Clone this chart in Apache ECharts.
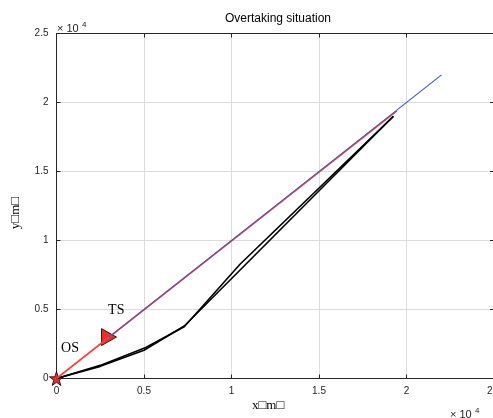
<!DOCTYPE html>
<html>
<head>
<meta charset="utf-8">
<script src="https://cdn.jsdelivr.net/npm/echarts@6/dist/echarts.min.js"></script>
<style>
  html, body { margin: 0; padding: 0; background: #fff; }
  #chart { width: 493px; height: 418px; }
</style>
</head>
<body>
<div id="chart"></div>
<script>
// Track data in metres
const titleText = 'Overtaking situation';
const xAxisName = 'x\u25A1m\u25A1';
const yAxisName = 'y\u25A1m\u25A1';
const tickValues = [0, 5000, 10000, 15000, 20000, 25000];

// Own ship (OS) heading line and target ship (TS) course
const osLine = [[0, 0], [19450, 19400]];
const tsLine = [[3000, 3000], [22000, 22000]];

// Two planned avoidance paths of the own ship
const pathA = [[0, 0], [2500, 950], [5100, 2250], [7300, 3750], [10500, 8300], [19250, 19000]];
const pathB = [[0, 0], [2500, 880], [5000, 2050], [7300, 3800], [19250, 19000]];

// Ship positions
const osPos = [[0, 0]];
const tsPos = [[3000, 3000]];
const osLabel = 'OS';
const tsLabel = 'TS';

const starPath = 'path://M50,0 L61.8,35.3 L99,35.5 L69.1,57.7 L80.3,93.1 L50,71.6 L19.7,93.1 L30.9,57.7 L1,35.5 L38.2,35.3 Z';

const fmt = v => (v / 10000).toString();
const tickColor = '#262626';
const gridColor = '#dcdcdc';

const chart = echarts.init(document.getElementById('chart'), null, { renderer: 'canvas' });

const baseAxis = {
  type: 'value',
  min: 0,
  max: 25000,
  interval: 5000,
  axisLine: { show: true, onZero: false, lineStyle: { color: tickColor, width: 1 } },
  axisTick: { show: true, inside: true, length: 4, lineStyle: { color: tickColor } },
};

chart.setOption({
  animation: false,
  backgroundColor: '#fff',
  title: {
    text: titleText,
    left: 273, top: 8, textAlign: 'center',
    textStyle: { fontFamily: 'Liberation Sans', fontSize: 12, fontWeight: 'normal', color: '#000' }
  },
  grid: { left: 56.5, right: -1, top: 33.5, bottom: 39.5, containLabel: false, outerBoundsMode: 'none' },
  xAxis: [
    Object.assign({}, baseAxis, {
      position: 'bottom',
      axisLabel: { formatter: fmt, fontFamily: 'Liberation Sans', fontSize: 10, color: tickColor, margin: 8 },
      splitLine: { show: true, lineStyle: { color: gridColor, width: 1 } }
    }),
    Object.assign({}, baseAxis, {
      position: 'top',
      axisLabel: { show: false },
      splitLine: { show: false }
    })
  ],
  yAxis: [
    Object.assign({}, baseAxis, {
      position: 'left',
      axisLabel: { formatter: fmt, fontFamily: 'Liberation Sans', fontSize: 10, color: tickColor, margin: 8 },
      splitLine: { show: true, lineStyle: { color: gridColor, width: 1 } }
    }),
    Object.assign({}, baseAxis, {
      position: 'right',
      axisLabel: { show: false },
      splitLine: { show: false }
    })
  ],
  series: [
    {
      type: 'line', data: pathB, symbol: 'none',
      lineStyle: { color: '#000', width: 1.6 }
    },
    {
      type: 'line', data: pathA, symbol: 'none',
      lineStyle: { color: '#000', width: 1.6 }
    },
    {
      type: 'line', data: osLine, symbol: 'none',
      lineStyle: { color: '#ff3b3b', width: 1.6 }
    },
    {
      type: 'line', data: tsLine, symbol: 'none',
      lineStyle: { color: '#3c5fc0', width: 1.2 }
    },
    {
      type: 'scatter', data: tsPos, symbol: 'triangle', symbolRotate: -90, symbolSize: [17, 15],
      itemStyle: { color: '#e8302a', borderColor: '#000', borderWidth: 0.8, opacity: 1 },
      label: {
        show: true, formatter: tsLabel, position: [7, -25],
        fontFamily: 'Liberation Serif', fontSize: 14, color: '#000'
      }
    },
    {
      type: 'scatter', data: osPos, symbol: starPath, symbolSize: 14,
      itemStyle: { color: '#e8302a', borderColor: '#000', borderWidth: 0.8, opacity: 1 },
      label: {
        show: true, formatter: osLabel, position: [12, -30],
        fontFamily: 'Liberation Serif', fontSize: 14, color: '#000'
      }
    }
  ],
  graphic: [
    {
      type: 'text', left: 252, top: 399,
      style: { text: xAxisName, font: '13px "Liberation Serif"', fill: '#000' }
    },
    {
      type: 'text', x: 16, y: 213, rotation: Math.PI / 2,
      style: { text: yAxisName, font: '13px "Liberation Serif"', fill: '#000', align: 'center', verticalAlign: 'middle' }
    },
    {
      type: 'text', x: 57, y: 21,
      style: {
        text: '{m|\u00D7 10} {s|4}',
        rich: {
          m: { font: '11px "Liberation Sans"', fill: '#262626' },
          s: { font: '8px "Liberation Sans"', fill: '#262626', padding: [0, 0, 8, 0] }
        }
      }
    },
    {
      type: 'text', x: 450, y: 407,
      style: {
        text: '{m|\u00D7 10} {s|4}',
        rich: {
          m: { font: '11px "Liberation Sans"', fill: '#262626' },
          s: { font: '8px "Liberation Sans"', fill: '#262626', padding: [0, 0, 8, 0] }
        }
      }
    }
  ]
});
</script>
</body>
</html>
